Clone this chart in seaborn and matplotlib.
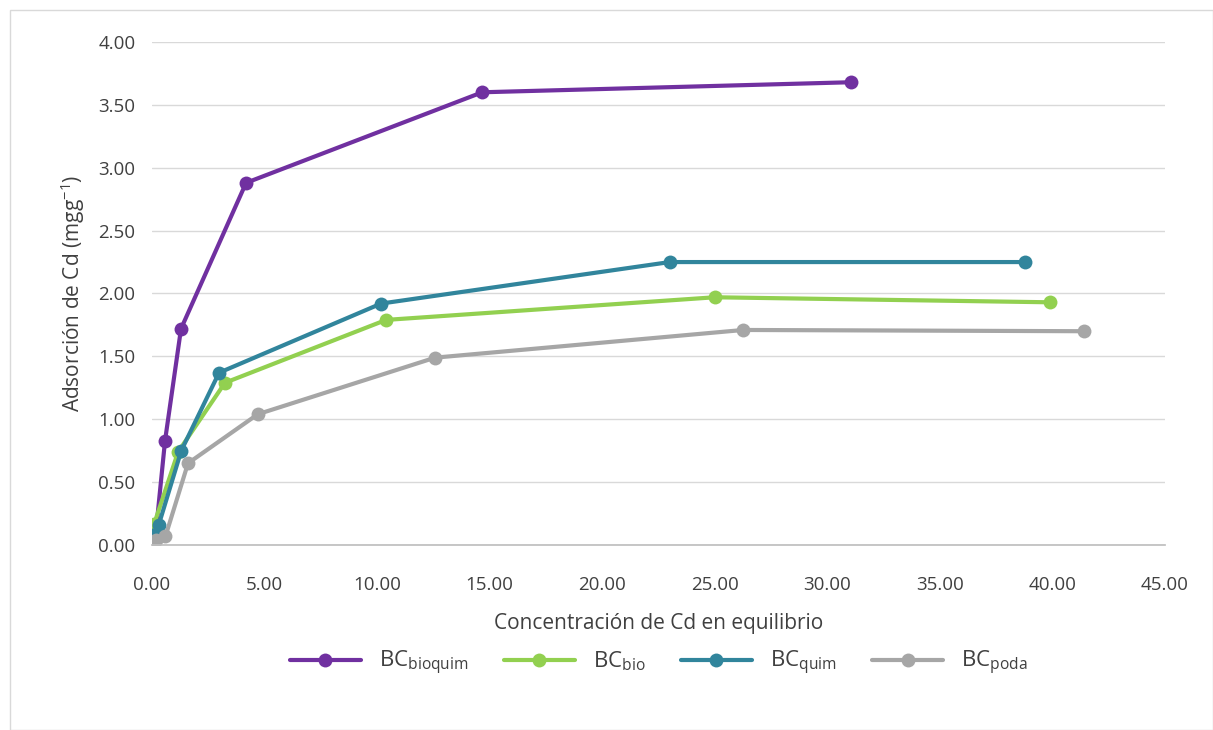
import pandas as pd
import seaborn as sns
import matplotlib.pyplot as plt
from matplotlib.patches import Rectangle

# Datos
x_bioquim = [0.2, 0.58, 1.29, 4.18, 14.67, 31.07]
y_bioquim = [0.15, 0.83, 1.72, 2.88, 3.60, 3.68]

x_bio = [0.1, 1.16, 3.24, 10.4, 25.0, 39.9]
y_bio = [0.17, 0.74, 1.29, 1.79, 1.97, 1.93]

x_quim = [0.05, 0.3, 1.3, 2.98, 10.18, 23.0, 38.8]
y_quim = [0.08, 0.16, 0.75, 1.37, 1.92, 2.25, 2.25]

x_poda = [0.2, 0.6, 1.6, 4.7, 12.58, 26.27, 41.4]
y_poda = [0.04, 0.07, 0.65, 1.04, 1.49, 1.71, 1.70]

etiquetas = [r'BC$_{\mathrm{bioquim}}$', r'BC$_{\mathrm{bio}}$', r'BC$_{\mathrm{quim}}$', r'BC$_{\mathrm{poda}}$']
colores = ['#7030A0', '#92D050', '#31859C', '#A6A6A6']

frames = []
for lab, xs, ys in zip(etiquetas, [x_bioquim, x_bio, x_quim, x_poda], [y_bioquim, y_bio, y_quim, y_poda]):
    frames.append(pd.DataFrame({'x': xs, 'y': ys, 'serie': lab}))
df = pd.concat(frames, ignore_index=True)

sns.set_theme(style="white")
plt.rcParams['font.family'] = ['Open Sans', 'DejaVu Sans']
plt.rcParams['mathtext.fontset'] = 'custom'
plt.rcParams['mathtext.rm'] = 'Open Sans'

fig = plt.figure(figsize=(12.13, 7.30), dpi=100)
ax = fig.add_axes([0.1253, 0.2534, 0.8351, 0.6891])

sns.lineplot(data=df, x='x', y='y', hue='serie', hue_order=etiquetas,
             palette=dict(zip(etiquetas, colores)), sort=False, estimator=None,
             marker='o', markersize=10, markeredgewidth=0, linewidth=3, ax=ax)

ax.set_xlim(0, 45)
ax.set_ylim(0, 4)
ax.set_xticks([i * 5 for i in range(10)])
ax.set_yticks([i * 0.5 for i in range(9)])
ax.xaxis.set_major_formatter(plt.FormatStrFormatter('%.2f'))
ax.yaxis.set_major_formatter(plt.FormatStrFormatter('%.2f'))
ax.tick_params(axis='both', length=0, labelsize=13.5, colors='#404040')
ax.tick_params(axis='x', pad=22)
ax.tick_params(axis='y', pad=12)
ax.grid(axis='y', color='#D9D9D9', linewidth=1)
ax.set_axisbelow(True)
for s in ['top', 'right', 'left']:
    ax.spines[s].set_visible(False)
ax.spines['bottom'].set_color('#BFBFBF')

ax.set_xlabel('Concentración de Cd en equilibrio', fontsize=15, color='#404040', labelpad=14)
ax.set_ylabel('Adsorción de Cd (mgg$^{-1}$)', fontsize=15, color='#404040', labelpad=8)

ax.legend(loc='center', bbox_to_anchor=(0.5, -0.235), ncol=4, frameon=False,
          fontsize=16, handlelength=3.2, columnspacing=1.6, labelcolor='#404040')

fig.patches.append(Rectangle((10 / 1213, 0), 1 - 10 / 1213, 1 - 10 / 730, transform=fig.transFigure,
                             fill=False, edgecolor='#D9D9D9', linewidth=1))

plt.savefig('out.png', dpi=100)
